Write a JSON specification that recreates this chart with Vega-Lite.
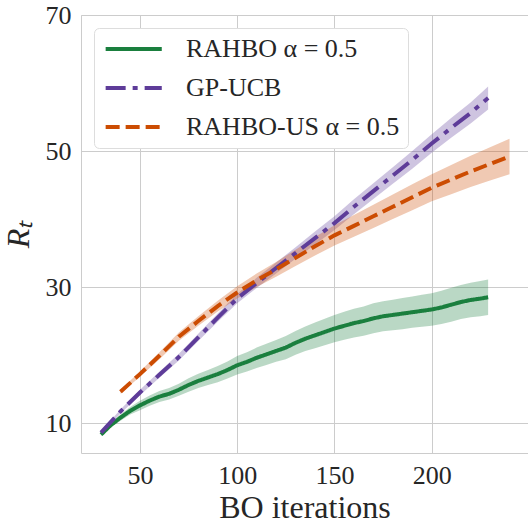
{
  "$schema": "https://vega.github.io/schema/vega-lite/v6.json",
  "width": 447,
  "height": 438,
  "autosize": {"type": "none"},
  "padding": {"left": 81, "top": 15, "right": 0, "bottom": 70},
  "data": {"values": [
    {"s": "RAHBO α = 0.5", "x": 30, "y": 8.3, "h": 0.2},
    {"s": "RAHBO α = 0.5", "x": 35, "y": 9.7, "h": 0.35},
    {"s": "RAHBO α = 0.5", "x": 40, "y": 10.8, "h": 0.45},
    {"s": "RAHBO α = 0.5", "x": 45, "y": 11.8, "h": 0.55},
    {"s": "RAHBO α = 0.5", "x": 50, "y": 12.6, "h": 0.7},
    {"s": "RAHBO α = 0.5", "x": 55, "y": 13.3, "h": 0.75},
    {"s": "RAHBO α = 0.5", "x": 60, "y": 13.9, "h": 0.8},
    {"s": "RAHBO α = 0.5", "x": 65, "y": 14.3, "h": 0.85},
    {"s": "RAHBO α = 0.5", "x": 70, "y": 14.9, "h": 0.9},
    {"s": "RAHBO α = 0.5", "x": 75, "y": 15.6, "h": 1.0},
    {"s": "RAHBO α = 0.5", "x": 80, "y": 16.2, "h": 1.05},
    {"s": "RAHBO α = 0.5", "x": 85, "y": 16.7, "h": 1.1},
    {"s": "RAHBO α = 0.5", "x": 90, "y": 17.2, "h": 1.2},
    {"s": "RAHBO α = 0.5", "x": 95, "y": 17.8, "h": 1.25},
    {"s": "RAHBO α = 0.5", "x": 100, "y": 18.5, "h": 1.35},
    {"s": "RAHBO α = 0.5", "x": 105, "y": 19.0, "h": 1.4},
    {"s": "RAHBO α = 0.5", "x": 110, "y": 19.6, "h": 1.5},
    {"s": "RAHBO α = 0.5", "x": 115, "y": 20.1, "h": 1.55},
    {"s": "RAHBO α = 0.5", "x": 120, "y": 20.6, "h": 1.6},
    {"s": "RAHBO α = 0.5", "x": 125, "y": 21.1, "h": 1.7},
    {"s": "RAHBO α = 0.5", "x": 130, "y": 21.8, "h": 1.75},
    {"s": "RAHBO α = 0.5", "x": 135, "y": 22.4, "h": 1.8},
    {"s": "RAHBO α = 0.5", "x": 140, "y": 22.9, "h": 1.9},
    {"s": "RAHBO α = 0.5", "x": 145, "y": 23.4, "h": 1.95},
    {"s": "RAHBO α = 0.5", "x": 150, "y": 23.9, "h": 2.0},
    {"s": "RAHBO α = 0.5", "x": 155, "y": 24.3, "h": 2.05},
    {"s": "RAHBO α = 0.5", "x": 160, "y": 24.7, "h": 2.1},
    {"s": "RAHBO α = 0.5", "x": 165, "y": 25.0, "h": 2.15},
    {"s": "RAHBO α = 0.5", "x": 170, "y": 25.4, "h": 2.2},
    {"s": "RAHBO α = 0.5", "x": 175, "y": 25.7, "h": 2.2},
    {"s": "RAHBO α = 0.5", "x": 180, "y": 25.9, "h": 2.25},
    {"s": "RAHBO α = 0.5", "x": 185, "y": 26.1, "h": 2.3},
    {"s": "RAHBO α = 0.5", "x": 190, "y": 26.3, "h": 2.3},
    {"s": "RAHBO α = 0.5", "x": 195, "y": 26.5, "h": 2.35},
    {"s": "RAHBO α = 0.5", "x": 200, "y": 26.7, "h": 2.4},
    {"s": "RAHBO α = 0.5", "x": 205, "y": 27.0, "h": 2.45},
    {"s": "RAHBO α = 0.5", "x": 210, "y": 27.4, "h": 2.5},
    {"s": "RAHBO α = 0.5", "x": 215, "y": 27.8, "h": 2.5},
    {"s": "RAHBO α = 0.5", "x": 220, "y": 28.1, "h": 2.55},
    {"s": "RAHBO α = 0.5", "x": 225, "y": 28.3, "h": 2.6},
    {"s": "RAHBO α = 0.5", "x": 229, "y": 28.5, "h": 2.6},
    {"s": "GP-UCB", "x": 30, "y": 8.6, "h": 0.2},
    {"s": "GP-UCB", "x": 40, "y": 11.7, "h": 0.3},
    {"s": "GP-UCB", "x": 50, "y": 14.5, "h": 0.4},
    {"s": "GP-UCB", "x": 60, "y": 17.1, "h": 0.45},
    {"s": "GP-UCB", "x": 70, "y": 19.7, "h": 0.5},
    {"s": "GP-UCB", "x": 80, "y": 22.6, "h": 0.55},
    {"s": "GP-UCB", "x": 90, "y": 25.5, "h": 0.6},
    {"s": "GP-UCB", "x": 100, "y": 28.3, "h": 0.7},
    {"s": "GP-UCB", "x": 110, "y": 30.6, "h": 0.75},
    {"s": "GP-UCB", "x": 120, "y": 32.8, "h": 0.8},
    {"s": "GP-UCB", "x": 130, "y": 35.0, "h": 0.85},
    {"s": "GP-UCB", "x": 140, "y": 37.2, "h": 0.95},
    {"s": "GP-UCB", "x": 150, "y": 39.4, "h": 1.0},
    {"s": "GP-UCB", "x": 160, "y": 41.8, "h": 1.1},
    {"s": "GP-UCB", "x": 170, "y": 44.1, "h": 1.15},
    {"s": "GP-UCB", "x": 180, "y": 46.4, "h": 1.2},
    {"s": "GP-UCB", "x": 190, "y": 48.7, "h": 1.3},
    {"s": "GP-UCB", "x": 200, "y": 51.1, "h": 1.35},
    {"s": "GP-UCB", "x": 210, "y": 53.4, "h": 1.45},
    {"s": "GP-UCB", "x": 220, "y": 55.6, "h": 1.55},
    {"s": "GP-UCB", "x": 229, "y": 57.8, "h": 1.7},
    {"s": "RAHBO-US α = 0.5", "x": 40, "y": 14.6, "h": 0.3},
    {"s": "RAHBO-US α = 0.5", "x": 50, "y": 17.2, "h": 0.4},
    {"s": "RAHBO-US α = 0.5", "x": 60, "y": 19.9, "h": 0.5},
    {"s": "RAHBO-US α = 0.5", "x": 70, "y": 22.7, "h": 0.6},
    {"s": "RAHBO-US α = 0.5", "x": 80, "y": 25.0, "h": 0.7},
    {"s": "RAHBO-US α = 0.5", "x": 90, "y": 27.2, "h": 0.8},
    {"s": "RAHBO-US α = 0.5", "x": 100, "y": 29.2, "h": 0.9},
    {"s": "RAHBO-US α = 0.5", "x": 110, "y": 31.0, "h": 1.0},
    {"s": "RAHBO-US α = 0.5", "x": 120, "y": 32.6, "h": 1.1},
    {"s": "RAHBO-US α = 0.5", "x": 130, "y": 34.3, "h": 1.2},
    {"s": "RAHBO-US α = 0.5", "x": 140, "y": 36.0, "h": 1.35},
    {"s": "RAHBO-US α = 0.5", "x": 150, "y": 37.6, "h": 1.5},
    {"s": "RAHBO-US α = 0.5", "x": 160, "y": 39.0, "h": 1.6},
    {"s": "RAHBO-US α = 0.5", "x": 170, "y": 40.4, "h": 1.7},
    {"s": "RAHBO-US α = 0.5", "x": 180, "y": 41.8, "h": 1.8},
    {"s": "RAHBO-US α = 0.5", "x": 190, "y": 43.2, "h": 1.9},
    {"s": "RAHBO-US α = 0.5", "x": 200, "y": 44.6, "h": 2.0},
    {"s": "RAHBO-US α = 0.5", "x": 210, "y": 45.8, "h": 2.15},
    {"s": "RAHBO-US α = 0.5", "x": 220, "y": 47.0, "h": 2.3},
    {"s": "RAHBO-US α = 0.5", "x": 230, "y": 48.1, "h": 2.45},
    {"s": "RAHBO-US α = 0.5", "x": 240, "y": 49.2, "h": 2.6}
  ]},
  "transform": [
    {"calculate": "datum.y - datum.h", "as": "lo"},
    {"calculate": "datum.y + datum.h", "as": "hi"}
  ],
  "layer": [
    {
      "mark": {"type": "area", "opacity": 0.3, "clip": true},
      "encoding": {
        "x": {"field": "x", "type": "quantitative"},
        "y": {"field": "lo", "type": "quantitative"},
        "y2": {"field": "hi"},
        "fill": {"field": "s", "type": "nominal", "scale": {"domain": ["GP-UCB", "RAHBO α = 0.5", "RAHBO-US α = 0.5"], "range": ["#5e3c99", "#1a7f3e", "#cc4c02"]}, "legend": null},
        "detail": {"field": "s"}
      }
    },
    {
      "mark": {"type": "line", "strokeWidth": 4, "clip": true},
      "encoding": {
        "x": {"field": "x", "type": "quantitative", "scale": {"domain": [19.7, 249.5], "nice": false, "zero": false}, "axis": {"values": [50, 100, 150, 200], "title": "BO iterations", "titleFontSize": 32, "labelPadding": 9, "titlePadding": 4}},
        "y": {"field": "y", "type": "quantitative", "scale": {"domain": [5.6, 70], "nice": false, "zero": false}, "axis": {"values": [10, 30, 50, 70], "title": "Rₜ", "titleFontSize": 32, "titleFontStyle": "italic", "labelPadding": 10, "titlePadding": 10}},
        "stroke": {"field": "s", "type": "nominal", "scale": {"domain": ["RAHBO α = 0.5", "GP-UCB", "RAHBO-US α = 0.5"], "range": ["#1a7f3e", "#5e3c99", "#cc4c02"]},
          "legend": {"title": null, "orient": "top-left", "offset": 13, "labelFont": "Liberation Serif", "labelFontSize": 26, "labelColor": "#262626", "labelLimit": 400, "symbolType": "M-1,0H5", "symbolSize": 350, "symbolStrokeWidth": 4, "labelOffset": 58, "rowPadding": 13, "padding": 8, "fillColor": "#ffffff", "strokeColor": "#dddddd", "cornerRadius": 5}},
        "strokeDash": {"field": "s", "type": "nominal", "scale": {"domain": ["RAHBO α = 0.5", "GP-UCB", "RAHBO-US α = 0.5"], "range": [[1, 0], [20, 7, 5, 7], [14, 6]]}, "legend": {"title": null}}
      }
    }
  ],
  "config": {
    "font": "Liberation Serif",
    "view": {"stroke": "#cccccc", "strokeWidth": 1},
    "axis": {"gridColor": "#cccccc", "gridWidth": 1, "domain": false, "ticks": false, "labelColor": "#262626", "titleColor": "#262626", "labelFont": "Liberation Serif", "titleFont": "Liberation Serif", "labelFontSize": 26, "titleFontWeight": "normal"}
  }
}
